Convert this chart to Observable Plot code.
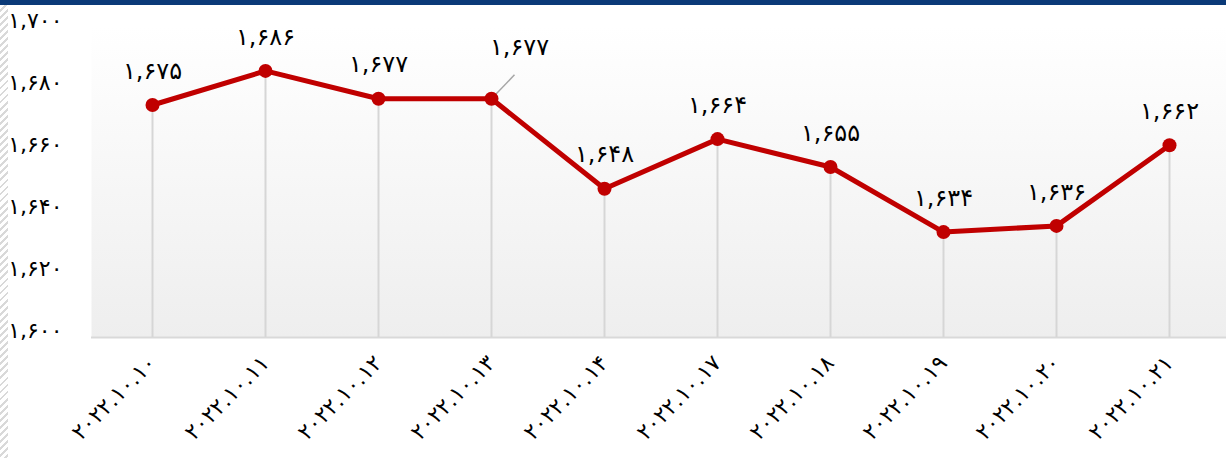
<!DOCTYPE html>
<html>
<head>
<meta charset="utf-8">
<script src="https://cdn.jsdelivr.net/npm/d3@7"></script>
<script src="https://cdn.jsdelivr.net/npm/@observablehq/plot@0.6"></script>
<style>
  html, body { margin: 0; padding: 0; background: #fff; }
  #wrap { position: relative; width: 1226px; height: 458px; overflow: hidden; }
  #topbar { height: 5px; background: #0b3a78; }
  #hatch { position: absolute; left: 0; top: 5px; width: 8px; height: 453px;
    background: repeating-linear-gradient(135deg, #ffffff 0 3px, #d9d9d9 3px 5px); }
  svg text { font-family: "DejaVu Sans", sans-serif; }
</style>
</head>
<body>
<div id="wrap"><div id="topbar"></div><div id="hatch"></div><div id="chart"></div></div>
<script>
const dates = ["2022.10.10","2022.10.11","2022.10.12","2022.10.13","2022.10.14","2022.10.17","2022.10.18","2022.10.19","2022.10.20","2022.10.21"];
const values = [1675, 1686, 1677, 1677, 1648, 1664, 1655, 1634, 1636, 1662];
const yTicks = [1600, 1620, 1640, 1660, 1680, 1700];

const fa = s => String(s).replace(/\d/g, d => "۰۱۲۳۴۵۶۷۸۹"[d]);
const fmt = n => fa(d3.format(",")(n));
const data = dates.map((d, i) => ({date: d, value: values[i], special: i === 3}));

const bgDefs = () => {
  const g = d3.create("svg:g");
  const grad = g.append("defs").append("linearGradient")
    .attr("id", "bg").attr("x1", 0).attr("y1", 0).attr("x2", 0).attr("y2", 1);
  grad.append("stop").attr("offset", "0%").attr("stop-color", "#ffffff");
  grad.append("stop").attr("offset", "100%").attr("stop-color", "#eeeeee");
  return g.node();
};

const chart = Plot.plot({
  width: 1226,
  height: 453,
  marginLeft: 91,
  marginRight: -3,
  marginTop: 22,
  marginBottom: 121,
  x: {type: "point", domain: dates, padding: 0.5},
  y: {domain: [1600, 1700]},
  style: {fontFamily: "DejaVu Sans, sans-serif", fontSize: "22px", color: "#000", background: "transparent", overflow: "hidden"},
  marks: [
    bgDefs,
    Plot.frame({fill: "url(#bg)", stroke: "none"}),
    Plot.axisY({ticks: yTicks, tickFormat: fmt, tickSize: 0, tickPadding: 29, dy: -7, fontSize: 22, label: null}),
    Plot.axisX({tickFormat: fa, tickRotate: -45, tickSize: 0, tickPadding: 22, fontSize: 22, label: null}),
    Plot.ruleY([1600], {stroke: "#d9d9d9", strokeWidth: 2}),
    Plot.ruleX(data, {x: "date", y1: 1600, y2: "value", stroke: "#d6d6d6", strokeWidth: 2}),
    Plot.link(data.filter(d => d.special), {x1: "date", y1: "value", x2: "date", y2: "value", stroke: "#a6a6a6", strokeWidth: 1.5,
      render: (index, scales, values, dims, ctx, next) => {
        const el = next(index, scales, values, dims, ctx);
        d3.select(el).selectAll("path, line").each(function() {
          const s = d3.select(this);
          if (this.tagName === "line") { s.attr("x2", +s.attr("x1") + 23).attr("y2", +s.attr("y1") - 24); }
          else {
            const m = s.attr("d").match(/M([\d.\-]+),([\d.\-]+)/);
            const x = +m[1], y = +m[2];
            s.attr("d", `M${x},${y}L${x + 23},${y - 24}`);
          }
        });
        return el;
      }}),
    Plot.line(data, {x: "date", y: "value", stroke: "#c00000", strokeWidth: 5}),
    Plot.dot(data, {x: "date", y: "value", r: 7, fill: "#c00000", stroke: "none"}),
    Plot.text(data.filter(d => !d.special), {x: "date", y: "value", text: d => fmt(d.value), dy: -34, fontSize: 24, fill: "#000"}),
    Plot.text(data.filter(d => d.special), {x: "date", y: "value", text: d => fmt(d.value), dx: 28, dy: -51, fontSize: 24, fill: "#000"})
  ]
});
document.getElementById("chart").appendChild(chart);
</script>
</body>
</html>
